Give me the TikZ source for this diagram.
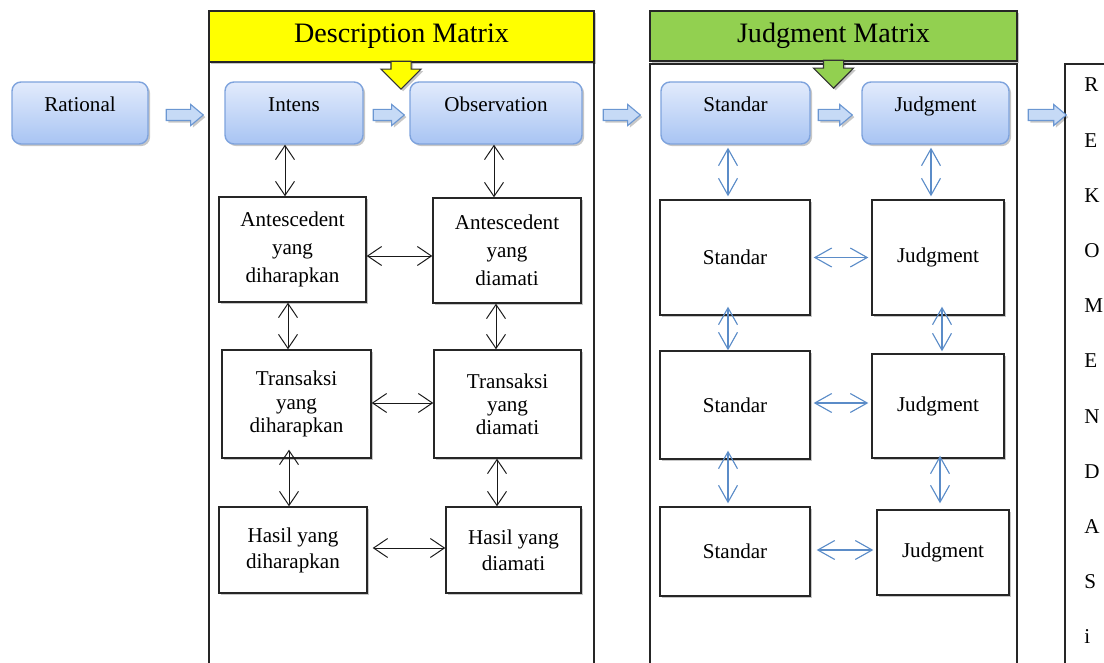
\documentclass[tikz,border=0pt]{standalone}
\usepackage{fontspec}
\setmainfont{Liberation Serif}
\usepackage{tikz}
\usetikzlibrary{
  arrows.meta,
  positioning,
  shapes.arrows,
  shadows,
  calc
}

\definecolor{stageline}{HTML}{7EA3DD}
\definecolor{stagetop}{HTML}{E2EBFC}
\definecolor{stagebot}{HTML}{A8C4F3}
\definecolor{linkblue}{HTML}{5B8CC8}
\definecolor{hdryellow}{HTML}{FFFF00}
\definecolor{hdrgreen}{HTML}{92D050}
\definecolor{flowfill}{HTML}{C6DAF6}
\definecolor{flowline}{HTML}{6B97D2}

\newlength{\pxu}
\setlength{\pxu}{0.025cm}

\begin{document}
\begin{tikzpicture}[x=0.025cm, y=-0.025cm, font=\fontsize{15}{19}\selectfont,
  softshadow/.style={drop shadow={shadow xshift=1.5pt, shadow yshift=-1.5pt, fill=black, opacity=0.22}},
  stagebox/.style={rectangle, rounded corners=9\pxu, draw=stageline, line width=1pt,
    top color=stagetop, bottom color=stagebot, inner sep=0pt,
    text height=10.5pt, text depth=13.3pt, minimum height=62\pxu, softshadow},
  infobox/.style={rectangle, draw=black!85, line width=1pt, fill=white, align=center,
    inner sep=2pt, softshadow},
  hdrbox/.style={rectangle, draw=black!85, line width=0.9pt, inner sep=0pt,
    font=\fontsize{20}{24}\selectfont, softshadow},
  hdrarrow/.style={single arrow, rotate=-90, draw=black!80, line width=0.8pt,
    inner xsep=0pt, inner ysep=9.5\pxu, single arrow head extend=10\pxu,
    minimum height=28\pxu, anchor=tail, softshadow},
  flowarrow/.style={single arrow, draw=flowline, line width=0.8pt, fill=flowfill,
    inner xsep=0pt, inner ysep=5\pxu, single arrow head extend=5\pxu,
    single arrow tip angle=80, anchor=tail, softshadow},
  linkblack/.style={{Straight Barb[length=10pt,width=13.5pt]}-{Straight Barb[length=10pt,width=13.5pt]},
    line width=0.7pt, draw=black!90},
  linkblue/.style={{Straight Barb[length=12pt,width=13.5pt]}-{Straight Barb[length=12pt,width=13.5pt]},
    line width=0.8pt, draw=linkblue, shorten <=3\pxu, shorten >=3\pxu}
]
\useasboundingbox (0,0) rectangle (1104,663);

% outer frames (cut off at the bottom edge)
\draw[line width=0.8pt, black!85] (209,663) |- (594,62) -- (594,663);
\draw[line width=0.8pt, black!85] (650,663) |- (1017,64) -- (1017,663);
\draw[line width=0.8pt, black!85] (1104,64) -| (1065,663);

% matrix headers
\node[hdrbox, fill=hdryellow, minimum width=385\pxu, minimum height=51\pxu] (deschdr) at (401.5,36.5) {Description Matrix};
\node[hdrbox, fill=hdrgreen, minimum width=367\pxu, minimum height=50\pxu] (judghdr) at (833.5,36) {Judgment Matrix};
\node[hdrarrow, fill=hdryellow] (descpin) at ([xshift=-0.5\pxu, yshift=2\pxu]deschdr.south) {};
\node[hdrarrow, fill=hdrgreen] (judgpin) at ([yshift=2\pxu]judghdr.south) {};

% top row
\node[stagebox, minimum width=136\pxu] (rational) at (80,113) {Rational};
\node[stagebox, minimum width=138\pxu] (intens) at (294,113) {Intens};
\node[stagebox, minimum width=172\pxu] (observ) at (496,113) {Observation};
\node[stagebox, minimum width=149\pxu] (standar) at (735.5,113) {Standar};
\node[stagebox, minimum width=147\pxu] (judgment) at (935.5,113) {Judgment};

\node[flowarrow, minimum height=37\pxu] (flow1) at ([xshift=17\pxu, yshift=-2\pxu]rational.east) {};
\node[flowarrow, minimum height=31\pxu] (flow2) at ([xshift=9\pxu, yshift=-2\pxu]intens.east) {};
\node[flowarrow, minimum height=37\pxu] (flow3) at ([xshift=20\pxu, yshift=-2\pxu]observ.east) {};
\node[flowarrow, minimum height=34\pxu] (flow4) at ([xshift=7\pxu, yshift=-2\pxu]standar.east) {};
\node[flowarrow, minimum height=38\pxu] (flow5) at ([xshift=18\pxu, yshift=-2\pxu]judgment.east) {};

% description matrix
\node[infobox, font=\fontsize{15}{20}\selectfont, minimum width=147\pxu, minimum height=105\pxu] (antexp) at (292.5,249.5) {Antescedent\\yang\\diharapkan};
\node[infobox, font=\fontsize{15}{20}\selectfont, minimum width=148\pxu, minimum height=105\pxu] (antobs) at (507,250.5) {Antescedent\\yang\\diamati};
\node[infobox, font=\fontsize{15}{16.5}\selectfont, minimum width=149\pxu, minimum height=108\pxu] (trexp) at (296.5,404) {Transaksi\\yang\\diharapkan};
\node[infobox, font=\fontsize{15}{16.5}\selectfont, minimum width=147\pxu, minimum height=108\pxu] (trobs) at (507.5,404) {Transaksi\\yang\\diamati};
\node[infobox, font=\fontsize{15}{18.5}\selectfont, minimum width=148\pxu, minimum height=86\pxu] (hsexp) at (293,550) {Hasil yang\\diharapkan};
\node[infobox, font=\fontsize{15}{18.5}\selectfont, minimum width=135\pxu, minimum height=86\pxu] (hsobs) at (513.5,550) {Hasil yang\\diamati};

\draw[linkblack] ([xshift=-9\pxu]intens.south) -- ([xshift=-7.5\pxu]antexp.north);
\draw[linkblack] ([xshift=-2\pxu]observ.south) -- ([xshift=-13\pxu]antobs.north);
\draw[linkblack] ([xshift=-4.5\pxu]antexp.south) -- ([xshift=-8.5\pxu]trexp.north);
\draw[linkblack] ([xshift=-11\pxu]antobs.south) -- ([xshift=-11.5\pxu]trobs.north);
\draw[linkblack, shorten <=-9\pxu] ([xshift=-7.5\pxu]trexp.south) -- ([xshift=-4\pxu]hsexp.north);
\draw[linkblack] ([xshift=-10.5\pxu]trobs.south) -- ([xshift=-16.5\pxu]hsobs.north);
\draw[linkblack] ([yshift=-6.5\pxu]antexp.east) -- ([yshift=-5.5\pxu]antobs.west);
\draw[linkblack] ([yshift=1\pxu]trexp.east) -- ([yshift=1\pxu]trobs.west);
\draw[linkblack] ([xshift=5\pxu, yshift=2\pxu]hsexp.east) -- ([yshift=2\pxu]hsobs.west);

% judgment matrix
\node[infobox, minimum width=150\pxu, minimum height=115\pxu] (std1) at (735,257.5) {Standar};
\node[infobox, minimum width=132\pxu, minimum height=115\pxu] (jdg1) at (938,257.5) {Judgment};
\node[infobox, minimum width=150\pxu, minimum height=108\pxu] (std2) at (735,405) {Standar};
\node[infobox, minimum width=132\pxu, minimum height=104\pxu] (jdg2) at (938,406) {Judgment};
\node[infobox, minimum width=150\pxu, minimum height=89\pxu] (std3) at (735,551.5) {Standar};
\node[infobox, minimum width=132\pxu, minimum height=85\pxu] (jdg3) at (943,552.5) {Judgment};

\draw[linkblue] ([xshift=-7.5\pxu]standar.south) -- ([xshift=-7\pxu]std1.north);
\draw[linkblue] ([xshift=-4.5\pxu]judgment.south) -- ([xshift=-7\pxu]jdg1.north);
\draw[linkblue, shorten <=-9\pxu, shorten >=0pt] ([xshift=-7\pxu]std1.south) -- ([xshift=-7\pxu]std2.north);
\draw[linkblue, shorten <=-9\pxu, shorten >=2\pxu] ([xshift=4\pxu]jdg1.south) -- ([xshift=4\pxu]jdg2.north);
\draw[linkblue, shorten <=-9\pxu] ([xshift=-7\pxu]std2.south) -- ([xshift=-7\pxu]std3.north);
\draw[linkblue, shorten <=-3\pxu, shorten >=6\pxu] ([xshift=2\pxu]jdg2.south) -- ([xshift=-3\pxu]jdg3.north);
\draw[linkblue] (std1.east) -- (jdg1.west);
\draw[linkblue] ([yshift=2\pxu]std2.east) -- ([yshift=3\pxu]jdg2.west);
\draw[linkblue] ([xshift=3\pxu, yshift=1.5\pxu]std3.east) -- ([yshift=2.5\pxu]jdg3.west);

% rekomendasi column
\foreach \ch [count=\i] in {R,E,K,O,M,E,N,D,A,S,i}
  \node[anchor=west, inner sep=0pt] (rek\i) at (1084,{85+55.2*(\i-1)}) {\ch};
\end{tikzpicture}
\end{document}
